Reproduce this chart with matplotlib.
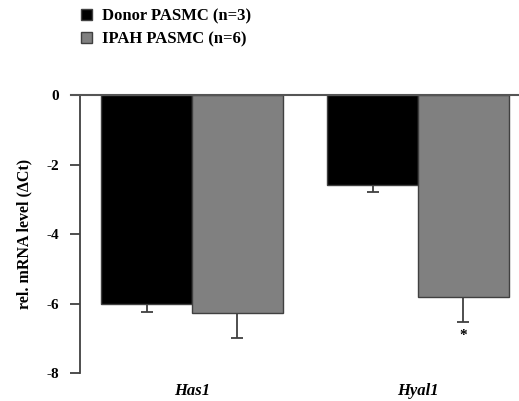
import matplotlib
matplotlib.use("Agg")
import matplotlib.pyplot as plt
import numpy as np

genes = ["Has1", "Hyal1"]
series = ["Donor PASMC (n=3)", "IPAH PASMC (n=6)"]
donor = [-6.0, -2.6]
donor_err = [0.25, 0.2]
ipah = [-6.27, -5.8]
ipah_err = [0.72, 0.72]
yticks = [0, -2, -4, -6, -8]

plt.rcParams['font.family'] = ['Liberation Serif', 'DejaVu Serif']
plt.rcParams['font.weight'] = 'bold'

fig = plt.figure(figsize=(5.19, 4.01), dpi=100)
ax = fig.add_axes([0.154, 0.0698, 0.846, 0.6932])

x = np.arange(len(genes))
w = 0.402
edge = '#404040'
b1 = ax.bar(x - w/2, donor, w, color='black', edgecolor=edge, linewidth=1.0, label=series[0], zorder=2)
b2 = ax.bar(x + w/2, ipah, w, color='#808080', edgecolor=edge, linewidth=1.0, label=series[1], zorder=2)
ax.errorbar(x - w/2, donor, yerr=[donor_err, np.zeros(2)], fmt='none', ecolor=edge,
            elinewidth=1.3, capsize=4, capthick=1.3, zorder=1)
ax.errorbar(x + w/2, ipah, yerr=[ipah_err, np.zeros(2)], fmt='none', ecolor=edge,
            elinewidth=1.3, capsize=4, capthick=1.3, zorder=1)
ax.text(x[1] + w/2, ipah[1] - ipah_err[1] - 0.22, "*", ha='center', va='top', fontsize=11)

ax.axhline(0, color='#555555', lw=1.5, xmin=-0.02, clip_on=False, zorder=3)
ax.set_xlim(-0.496, 1.447)
ax.set_ylim(-8, 0)
ax.set_yticks(yticks)
ax.set_yticklabels([str(t) if t == 0 else "-" + str(abs(t)) for t in yticks], fontsize=11, fontweight='bold')
ax.set_xticks(x)
ax.set_xticklabels(genes, fontsize=12, fontweight='bold', fontstyle='italic')
ax.tick_params(axis='x', length=0, pad=7)
ax.tick_params(axis='y', length=7, width=1.3, color=edge, direction='out', pad=8)
for s in ['top', 'right', 'bottom']:
    ax.spines[s].set_visible(False)
ax.spines['left'].set_color(edge)
ax.spines['left'].set_linewidth(1.3)
ax.set_ylabel("rel. mRNA level (ΔCt)", fontsize=11.5, fontweight='bold', labelpad=10)

fig.legend(handles=[b1, b2], loc='upper left', bbox_to_anchor=(0.128, 1.016), frameon=False,
           handlelength=0.65, handleheight=0.65, handletextpad=0.6, labelspacing=0.4,
           prop={'weight': 'bold', 'size': 12})

fig.savefig("out.png", dpi=100)
